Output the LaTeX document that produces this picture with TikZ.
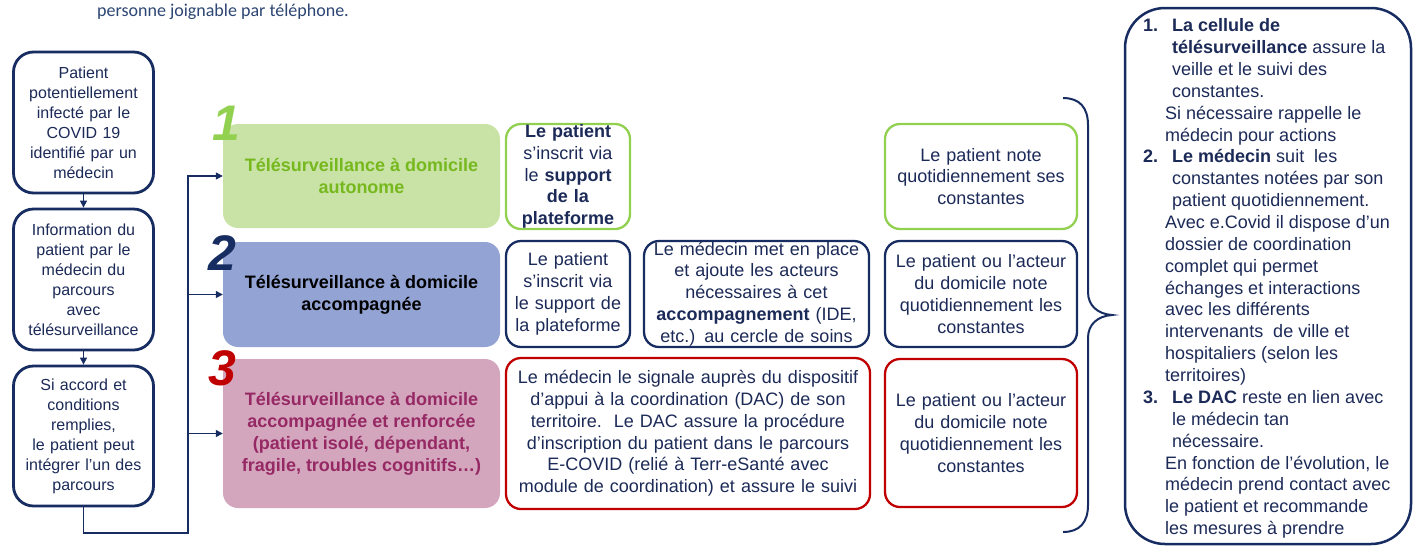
\documentclass[tikz,border=0pt]{standalone}
\usepackage{fontspec}
\setmainfont{Liberation Sans}
\newfontfamily\calib{Carlito}
\usetikzlibrary{arrows.meta}
\definecolor{navy}{RGB}{23,45,98}
\definecolor{navytxt}{RGB}{28,42,88}
\definecolor{gline}{RGB}{146,208,80}
\definecolor{gfill}{RGB}{201,227,166}
\definecolor{gtxt}{RGB}{118,184,30}
\definecolor{bfill}{RGB}{146,163,212}
\definecolor{pfill}{RGB}{212,166,190}
\definecolor{ptxt}{RGB}{150,40,100}
\definecolor{rline}{RGB}{192,0,0}
\definecolor{toptxt}{RGB}{45,70,115}
\begin{document}
\begin{tikzpicture}[x=1pt,y=-1pt,
  leftbox/.style={draw=navy,line width=2.8pt,rounded corners=20pt,minimum width=140pt,text width=136pt,align=center,inner sep=0pt,font=\fontsize{16}{20}\selectfont,text=navytxt},
  hbox/.style={rounded corners=15pt,minimum width=277pt,inner sep=0pt,align=center,font=\bfseries\fontsize{18}{22}\selectfont},
  cbox/.style={draw,line width=2.3pt,rounded corners=15pt,inner sep=0pt,align=center,font=\fontsize{18}{21.8}\selectfont,text=navytxt},
  numstyle/.style={font=\bfseries\itshape\fontsize{50}{50}\selectfont,inner sep=0pt},
  conn/.style={draw=navy,line width=1.2pt},
  arr/.style={-{Triangle[length=7pt,width=7pt]}}
]
\useasboundingbox (0,0) rectangle (1414,547);
\fill[white] (0,0) rectangle (1414,547);

\node[font=\calib\fontsize{18}{20}\selectfont,text=toptxt,anchor=base west,inner sep=0pt] (top) at (97,16) {personne joignable par téléphone.};

% left column
\node[leftbox,minimum height=141pt] (A) at (83.5,122.5) {Patient\\potentiellement\\infecté par le\\COVID 19\\identifié par un\\médecin};
\node[leftbox,minimum height=141pt] (B) at (83.5,279.5) {Information du\\patient par le\\médecin du\\parcours\\avec\\télésurveillance};
\node[leftbox,minimum height=140pt] (C) at (83.5,436) {Si accord et\\conditions\\remplies,\\le patient peut\\intégrer l’un des\\parcours};

% heading boxes
\node[hbox,fill=gfill,text=gtxt,minimum height=104pt] (g) at (361.5,176) {Télésurveillance à domicile\\autonome};
\node[hbox,fill=bfill,text=black,minimum height=105pt] (b) at (361.5,294.5) {Télésurveillance à domicile\\accompagnée};
\node[hbox,fill=pfill,text=ptxt,minimum height=149pt] (p) at (361.5,433.5) {Télésurveillance à domicile\\accompagnée et renforcée\\(patient isolé, dépendant,\\fragile, troubles cognitifs…)};

% numbers
\node[numstyle,text=gline] (n1) at (226,123) {1};
\node[numstyle,text=navy] (n2) at (222,253) {2};
\node[numstyle,text=rline] (n3) at (222,368) {3};

% connectors
\draw[conn,arr] (A.south) -- (B.north);
\draw[conn,arr] (B.south) -- (C.north);
\coordinate (bus) at (188,533);
\draw[conn,arr] (C.south) |- (bus) -- (bus |- g.west) -- (g.west);
\draw[conn,arr] (bus |- b.west) -- (b.west);
\draw[conn,arr] (bus |- p.west) -- (p.west);

% column 2
\node[cbox,draw=gline,minimum width=124pt,minimum height=105pt,text width=120pt] (g2) at (568,176.5) {\textbf{Le patient}\\s’inscrit via\\le \textbf{support}\\\textbf{de la}\\\textbf{plateforme}};
\node[cbox,draw=navy,minimum width=124pt,minimum height=106pt,text width=120pt] (b2a) at (568,294) {Le patient\\s’inscrit via\\le support de\\la plateforme};
\node[cbox,draw=navy,minimum width=225pt,minimum height=106pt,text width=220pt] (b2b) at (756.5,294) {Le médecin met en place\\et ajoute les acteurs\\nécessaires à cet\\\textbf{accompagnement} (IDE,\\etc.) au cercle de soins};
\node[cbox,draw=rline,minimum width=364pt,minimum height=151pt,text width=360pt] (r2) at (688,433.5) {Le médecin le signale auprès du dispositif\\d’appui à la coordination (DAC) de son\\territoire.~~Le DAC assure la procédure\\d’inscription du patient dans le parcours\\E-COVID (relié à Terr-eSanté avec\\module de coordination) et assure le suivi};

% column 3
\node[cbox,draw=gline,minimum width=192pt,minimum height=105pt,text width=188pt] (g3) at (981,176.5) {Le patient note\\quotidiennement ses\\constantes};
\node[cbox,draw=navy,minimum width=192pt,minimum height=106pt,text width=188pt] (b3) at (981,294) {Le patient ou l’acteur\\du domicile note\\quotidiennement les\\constantes};
\node[cbox,draw=rline,minimum width=192pt,minimum height=148pt,text width=188pt] (r3) at (981,433) {Le patient ou l’acteur\\du domicile note\\quotidiennement les\\constantes};

% brace
\draw[navy,line width=2pt] (1063,98) .. controls (1080,98) and (1088,108) .. (1088,125) -- (1088,292) .. controls (1088,306) and (1098,314) .. (1112,315) .. controls (1098,316) and (1088,324) .. (1088,338) -- (1088,505) .. controls (1088,522) and (1080,532) .. (1063,532);

% right box
\node[draw=navy,line width=2.5pt,rounded corners=40pt,minimum width=286pt,minimum height=536pt,inner sep=0pt] (R) at (1268,276) {};
\node[anchor=north west,inner sep=0pt,align=left,text=navytxt,font=\fontsize{18}{21.87}\selectfont] (Rt) at (1143,18.4) {%
\makebox[29pt][l]{\textbf{1.}}\textbf{La cellule de}\\
\hspace*{29pt}\textbf{télésurveillance} assure la\\
\hspace*{29pt}veille et le suivi des\\
\hspace*{29pt}constantes.\\
\hspace*{22pt}Si nécessaire rappelle le\\
\hspace*{22pt}médecin pour actions\\
\makebox[29pt][l]{\textbf{2.}}\textbf{Le médecin} suit~~les\\
\hspace*{29pt}constantes notées par son\\
\hspace*{29pt}patient quotidiennement.\\
\hspace*{22pt}Avec e.Covid il dispose d’un\\
\hspace*{22pt}dossier de coordination\\
\hspace*{22pt}complet qui permet\\
\hspace*{22pt}échanges et interactions\\
\hspace*{22pt}avec les différents\\
\hspace*{22pt}intervenants~~de ville et\\
\hspace*{22pt}hospitaliers (selon les\\
\hspace*{22pt}territoires)\\
\makebox[29pt][l]{\textbf{3.}}\textbf{Le DAC} reste en lien avec\\
\hspace*{29pt}le médecin tan\\
\hspace*{29pt}nécessaire.\\
\hspace*{22pt}En fonction de l’évolution, le\\
\hspace*{22pt}médecin prend contact avec\\
\hspace*{22pt}le patient et recommande\\
\hspace*{22pt}les mesures à prendre};
\end{tikzpicture}
\end{document}
